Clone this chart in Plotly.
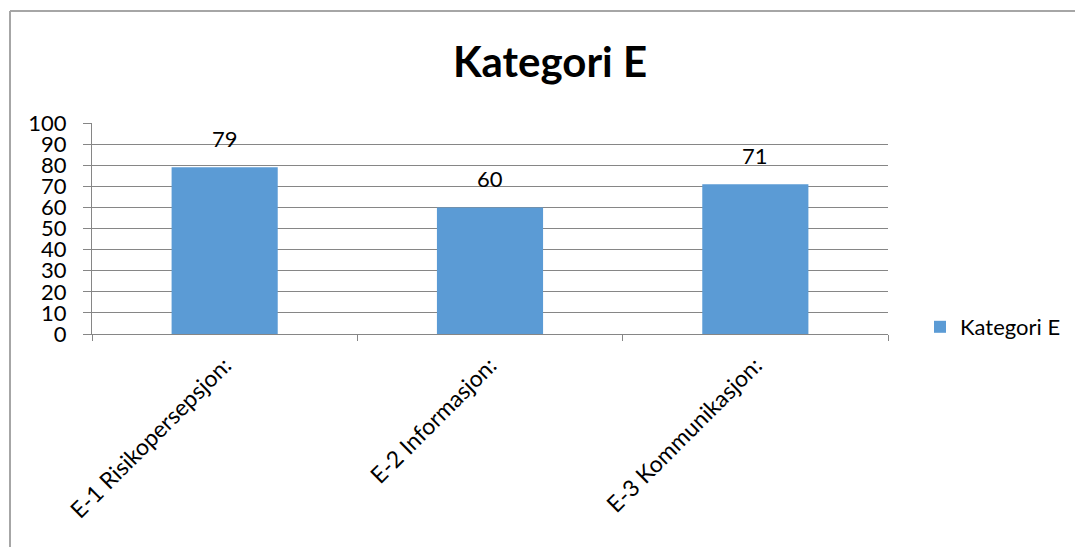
import plotly.graph_objects as go

categories = ["E-1 Risikopersepsjon:", "E-2 Informasjon:", "E-3 Kommunikasjon:"]
values = [79, 60, 71]
series_name = "Kategori E"
y_ticks = list(range(0, 101, 10))

W, H = 1075, 547
L, R, T, B = 92, 888, 123, 334  # plot area in pixels
FONT = "Lato, Open Sans, sans-serif"

fig = go.Figure()
fig.add_trace(go.Bar(
    x=categories, y=values, name=series_name,
    marker=dict(color="#5B9BD5", line=dict(width=0)),
    width=0.4,
))

# value labels sit a little above each bar
annotations = [
    dict(x=c, y=v, xref="x", yref="y", text=str(v), showarrow=False,
         yanchor="bottom", yshift=13, font=dict(family=FONT, size=22, color="#000000"))
    for c, v in zip(categories, values)
]

def px_x(p):
    return (p - L) / (R - L)

def px_y(p):
    return (B - p) / (B - T)

border = "#A6A6A6"
shapes = [
    dict(type="line", xref="paper", yref="paper", x0=px_x(10), x1=px_x(1100),
         y0=px_y(11), y1=px_y(11), line=dict(color=border, width=2)),
    dict(type="line", xref="paper", yref="paper", x0=px_x(10), x1=px_x(10),
         y0=px_y(11), y1=px_y(560), line=dict(color=border, width=2)),
]

fig.update_layout(
    width=W, height=H,
    margin=dict(l=L, r=W - R, t=T, b=H - B, autoexpand=False),
    paper_bgcolor="#FFFFFF", plot_bgcolor="#FFFFFF",
    title=dict(text="<b>Kategori E</b>", x=550 / W, xref="container", xanchor="center",
               y=1 - 62 / H, yanchor="middle",
               font=dict(family=FONT, size=42, color="#000000")),
    font=dict(family=FONT, color="#000000"),
    bargap=0.6,
    showlegend=True,
    legend=dict(x=px_x(920), xanchor="left", y=px_y(327), yanchor="middle",
                font=dict(size=22, color="#000000"), bgcolor="rgba(0,0,0,0)",
                itemwidth=30),
    shapes=shapes,
    annotations=annotations,
)
fig.update_xaxes(
    tickangle=-45, tickfont=dict(size=23, color="#000000"),
    showline=True, linecolor="#868686", linewidth=1,
    ticks="outside", ticklen=6, tickcolor="#868686", tickson="boundaries",
    showgrid=False, fixedrange=True, ticklabelstandoff=8,
)
fig.update_yaxes(
    range=[0, 100], tickvals=y_ticks, tickfont=dict(size=22, color="#000000"),
    showline=True, linecolor="#868686", linewidth=1,
    ticks="outside", ticklen=8, tickcolor="#868686",
    showgrid=True, gridcolor="#868686", gridwidth=1,
    zeroline=False, fixedrange=True, ticklabelstandoff=12,
)

fig.write_html("out.html")
